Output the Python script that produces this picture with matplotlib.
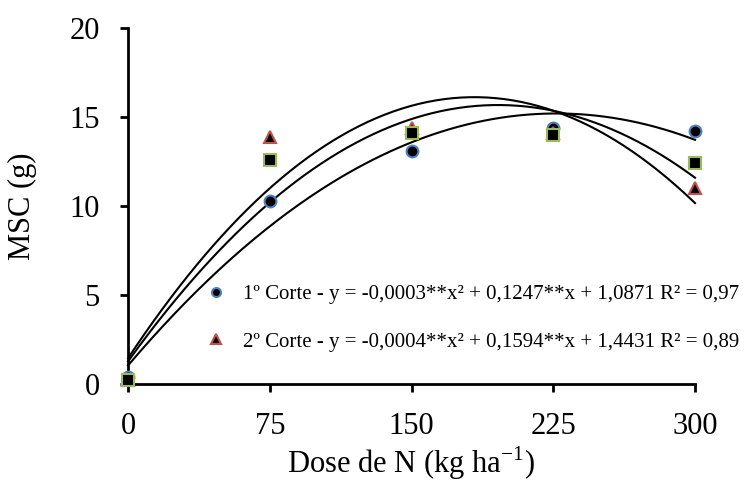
import numpy as np
import matplotlib
matplotlib.use('Agg')
import matplotlib.pyplot as plt
from matplotlib.lines import Line2D

plt.rcParams['font.family'] = ['Liberation Serif', 'DejaVu Serif']
plt.rcParams['mathtext.fontset'] = 'custom'
plt.rcParams['mathtext.rm'] = 'Liberation Serif'

# dados
doses = [0, 75, 150, 225, 300]
corte1 = [0.4, 10.3, 13.1, 14.4, 14.2]
corte2 = [0.2, 13.9, 14.4, 14.1, 11.0]
corte3 = [0.2, 12.6, 14.1, 14.0, 12.4]

labels = ['1º Corte - y = -0,0003**x² + 0,1247**x + 1,0871 R² = 0,97',
          '2º Corte - y = -0,0004**x² + 0,1594**x + 1,4431 R² = 0,89']

fig = plt.figure(figsize=(7.53, 4.84), dpi=100)
ax = fig.add_axes([0.17, 0.2066, 0.753, 0.7354])

# linhas de tendencia (polinomio de 2o grau)
xs = np.linspace(0, 300, 200)
for serie in [corte1, corte2, corte3]:
    coef = np.polyfit(doses, serie, 2)
    ax.plot(xs, np.polyval(coef, xs), color='black', lw=1.5, zorder=2, clip_on=False)

ax.plot(doses, corte1, 'o', ms=8.5, mfc='black', mec='#4f81bd', mew=1.5, zorder=3, clip_on=False)
ax.plot(doses, corte2, '^', ms=9, mfc='black', mec='#c0504d', mew=1.5, zorder=4, clip_on=False)
ax.plot(doses, corte3, 's', ms=8, mfc='black', mec='#9bbb59', mew=1.5, zorder=5, clip_on=False)

ax.set_xlim(0, 300)
ax.set_ylim(0, 20)
ax.set_xticks([0, 75, 150, 225, 300])
ax.set_yticks([0, 5, 10, 15, 20])
ax.spines['top'].set_visible(False)
ax.spines['right'].set_visible(False)
ax.spines['left'].set_linewidth(2)
ax.spines['bottom'].set_linewidth(2)
ax.tick_params(axis='both', direction='out', length=6, width=2, labelsize=22, pad=14.5)
ax.set_xlabel('Dose de N (kg ha$^{\\mathregular{-1}}$)', fontsize=22, labelpad=2)
ax.set_ylabel('MSC (g)', fontsize=22, labelpad=23)

handles = [Line2D([], [], ls='none', marker='o', ms=6.5, mfc='black', mec='#4f81bd', mew=1.5),
           Line2D([], [], ls='none', marker='^', ms=6.5, mfc='black', mec='#c0504d', mew=1.5)]
ax.legend(handles, labels, loc='upper left', bbox_to_anchor=(0.137, 0.28), frameon=False,
          fontsize=15, handlelength=1, handletextpad=0.8, borderpad=0, borderaxespad=0,
          labelspacing=1.35)

fig.savefig('out.png', dpi=100)
